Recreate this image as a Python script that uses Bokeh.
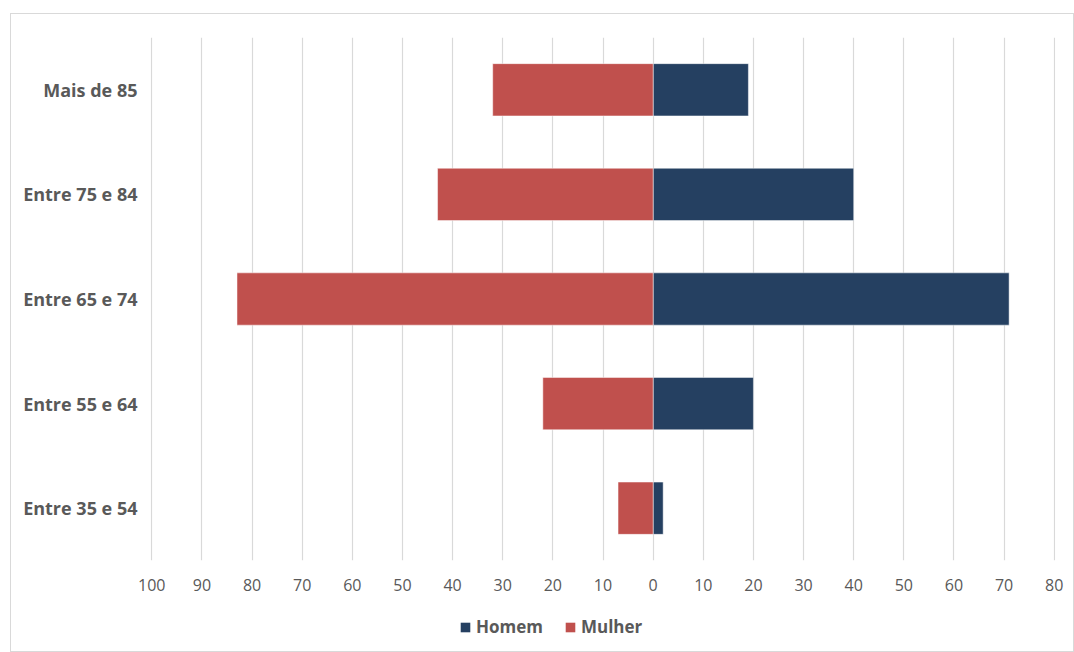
from bokeh.plotting import figure
from bokeh.models import FixedTicker, Legend, LegendItem, FactorRange
from bokeh.layouts import column
from bokeh.embed import file_html
from bokeh.resources import INLINE

categories = ["Entre 35 e 54", "Entre 55 e 64", "Entre 65 e 74", "Entre 75 e 84", "Mais de 85"]
homem = [2, 20, 71, 40, 19]
mulher = [7, 22, 83, 43, 32]
ticks = [-100, -90, -80, -70, -60, -50, -40, -30, -20, -10, 0, 10, 20, 30, 40, 50, 60, 70, 80]
tick_labels = {t: str(abs(t)) for t in ticks}
series_names = ["Homem", "Mulher"]

FONT = "Open Sans"
GREY = "#595959"
HOMEM_C = "#254061"
MULHER_C = "#C0504D"

neg = [-m for m in mulher]

p = figure(width=1062, height=587, y_range=FactorRange(*categories, range_padding=0),
           x_range=(-100.25, 80.25), output_backend="svg", toolbar_location=None,
           min_border_left=139, min_border_top=23, min_border_right=18, min_border_bottom=41)
p.outline_line_color = None

p.hbar(y=categories, left=0, right=homem, height=0.5, fill_color=HOMEM_C,
       line_color="white", line_width=0.8, line_alpha=0.6)
p.hbar(y=categories, left=neg, right=0, height=0.5, fill_color=MULHER_C,
       line_color="white", line_width=0.8, line_alpha=0.6)

p.xaxis.ticker = FixedTicker(ticks=ticks)
p.xaxis.major_label_overrides = tick_labels
p.xaxis.axis_line_color = None
p.xaxis.major_tick_line_color = None
p.xaxis.minor_tick_line_color = None
p.xaxis.major_tick_out = 0
p.xaxis.major_tick_in = 0
p.xaxis.major_label_text_font = FONT
p.xaxis.major_label_text_font_size = "16px"
p.xaxis.major_label_text_color = GREY
p.xaxis.major_label_standoff = 18

p.yaxis.axis_line_color = None
p.yaxis.major_tick_line_color = None
p.yaxis.minor_tick_line_color = None
p.yaxis.major_tick_out = 0
p.yaxis.major_tick_in = 0
p.yaxis.major_label_text_font = FONT
p.yaxis.major_label_text_font_size = "18px"
p.yaxis.major_label_text_font_style = "bold"
p.yaxis.major_label_text_color = GREY
p.yaxis.major_label_standoff = 13

p.xgrid.grid_line_color = "#D9D9D9"
p.xgrid.grid_line_width = 1.2
p.ygrid.grid_line_color = None

# Legend strip: the same two series as hidden glyphs, only their legend shows
lf = figure(width=1062, height=50, y_range=FactorRange(*categories), x_range=(-100, 80),
            output_backend="svg", toolbar_location=None, x_axis_type=None, y_axis_type=None,
            min_border=0)
lf.outline_line_color = None
lf.grid.grid_line_color = None
lh = lf.hbar(y=categories, left=0, right=homem, height=0.5, fill_color=HOMEM_C,
             line_color=None, visible=False)
lm = lf.hbar(y=categories, left=neg, right=0, height=0.5, fill_color=MULHER_C,
             line_color=None, visible=False)

legend = Legend(items=[LegendItem(label=series_names[0], renderers=[lh]),
                       LegendItem(label=series_names[1], renderers=[lm])],
                orientation="horizontal", location=(309, 13),
                label_text_font=FONT, label_text_font_size="17px",
                label_text_font_style="bold", label_text_color=GREY,
                glyph_width=12, glyph_height=12, label_standoff=5, spacing=21,
                padding=0, margin=0, border_line_color=None, background_fill_alpha=0,
                inactive_fill_alpha=0)
lf.add_layout(legend, "center")

layout = column(p, lf, spacing=0)
layout.margin = (13, 0, 0, 10)
layout.styles = {"border": "1px solid #d9d9d9"}

open("out.html", "w").write(file_html(layout, INLINE))
